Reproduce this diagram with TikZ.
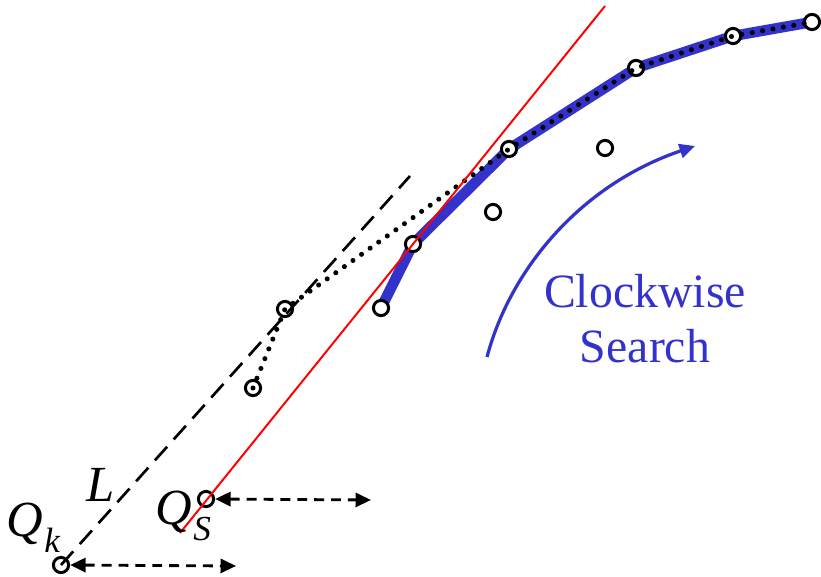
\documentclass[tikz,border=0pt]{standalone}
\usepackage{fontspec}
\setmainfont{Liberation Serif}
\usetikzlibrary{arrows.meta,positioning}
\definecolor{srch}{RGB}{51,51,204}

\begin{document}
\begin{tikzpicture}[x=0.025cm,y=-0.025cm,
    pt/.style={circle,draw=black,fill=white,line width=2.1pt,minimum size=0.38cm,inner sep=0pt},
    lbl/.style={font=\fontsize{36}{40}\selectfont\itshape,inner sep=0pt},
    sub/.style={font=\fontsize{25}{25}\selectfont\itshape,inner sep=0pt},
    hull/.style={srch,line width=7.5pt,line join=round},
    trail/.style={black,line width=3.6pt,line cap=round,dash pattern=on 0pt off 7.5pt},
    gap/.style={{Triangle[length=11pt,width=10pt]}-{Triangle[length=11pt,width=10pt]},
                dash pattern=on 7pt off 5pt,line width=2pt}]
  \useasboundingbox (0,0) rectangle (821,577);
  % thick blue chain, drawn under the points
  \coordinate (c0) at (381,308);
  \coordinate (d0) at (413,244);
  \coordinate (f0) at (509,149);
  \coordinate (h0) at (636,68);
  \coordinate (i0) at (733,36);
  \coordinate (j0) at (812,22);
  \draw[hull] (c0) -- (d0) -- (f0) -- (h0) -- (i0) -- (j0);
  % points
  \node[pt] (qk) at (61,565) {};
  \node[pt] (qs) at (206,499) {};
  \node[pt] (a) at (253,388) {};
  \node[pt] (b) at (285,309) {};
  \node[pt] (c) at (c0) {};
  \node[pt] (d) at (d0) {};
  \node[pt] (e) at (493,212) {};
  \node[pt] (f) at (f0) {};
  \node[pt] (g) at (605,148) {};
  \node[pt] (h) at (h0) {};
  \node[pt] (i) at (i0) {};
  \node[pt] (j) at (j0) {};
  % dotted chain
  \draw[trail] (a.center) -- (b.center) -- (f.center) -- (h.center) -- (i.center) -- (j.center);
  % red line through Qs
  \coordinate (r1) at (180,533);
  \coordinate (r2) at (605,6);
  \draw[red,line width=1.4pt] (r1) -- (r2);
  % line L
  \coordinate (l2) at (410,176);
  \draw[line width=1.9pt,dash pattern=on 13pt off 7pt] (qk.center) -- (l2);
  % offsets
  \coordinate (ka) at (236,566);
  \coordinate (sa) at (371,500);
  \draw[gap] (qk.east) -- (ka);
  \draw[gap] (qs.east) -- (sa);
  % labels
  \node[lbl] (lL) at (101,485) {L};
  \node[lbl] (lqk) at (25,524) {Q};
  \node[sub,anchor=base west] (lk) at (44,552) {k};
  \node[lbl] (lqs) at (174,512) {Q};
  \node[sub,anchor=base west] (ls) at (193,540) {S};
  % search direction
  \coordinate (s1) at (487,357);
  \coordinate (s2) at (695,146);
  \draw[srch,line width=2.3pt,-{Triangle[length=11pt,width=10pt]}]
    (s1) .. controls (510,270) and (580,185) .. (s2);
  \node[srch,align=center,font=\fontsize{34}{39}\selectfont,inner sep=0pt] (txt) at (645,319)
    {Clockwise\\Search};
\end{tikzpicture}
\end{document}
